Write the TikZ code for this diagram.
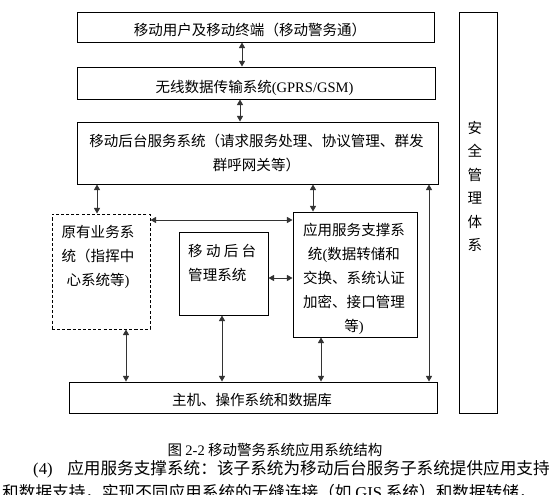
\documentclass[tikz,border=0pt]{standalone}
\usepackage{fontspec}
\setmainfont{Noto Sans CJK SC}
\newfontfamily\latin{Liberation Serif}
\usetikzlibrary{arrows.meta, positioning, fit}
\tikzset{
  box/.style={draw, line width=0.8pt, inner sep=0pt},
  dashbox/.style={box, dash pattern=on 2.6pt off 1.8pt},
  txt/.style={font=\fontsize{12.4}{20.5}\selectfont, align=center, inner sep=0pt},
  arr/.style={{Triangle[length=4.8pt,width=5.2pt]}-{Triangle[length=4.8pt,width=5.2pt]},
    line width=0.8pt, black!80},
}

\begin{document}
\begin{tikzpicture}[x=0.03cm, y=-0.03cm]
  \useasboundingbox (0,0) rectangle (550,494);
  \clip (0,0) rectangle (550,494);

  % Top layers
  \node[box, fit={(77,12) (434,42)}] (user) {};
  \node[txt] (usertxt) at (250,29.5) {移动用户及移动终端（移动警务通）};
  \node[box, fit={(77,67) (435,99)}] (wl) {};
  \node[txt] (wltxt) at (254.5,87.5) {无线数据传输系统{\latin (GPRS/GSM)}};
  \node[box, fit={(77,122) (438,184)}] (back) {};
  \node[txt] (backtxt) at (256.5,153) {移动后台服务系统（请求服务处理、协议管理、群发\\群呼网关等）};

  % Security column
  \node[box, fit={(459,12) (497,413)}] (safe) {};
  \node[txt, font=\fontsize{12.4}{20.1}\selectfont] (safetxt) at (475,186.5) {安\\全\\管\\理\\体\\系};

  % Middle layer
  \node[dashbox, fit={(52,214) (150,329)}] (orig) {};
  \node[txt] (origtxt) at (98,257) {原有业务系\\统（指挥中\\心系统等{\latin )}};
  \node[box, fit={(179,232) (268,315)}] (mgmt) {};
  \node[txt, align=left, anchor=west] (mgmttxt) at (188,262.5) {移 动 后 台\\管理系统};
  \node[box, fit={(293,212) (417,337)}] (app) {};
  \node[txt] (apptxt) at (354,279) {应用服务支撑系\\统{\latin (}数据转储和\\交换、系统认证\\加密、接口管理\\等{\latin )}};

  % Bottom layer
  \node[box, fit={(69,382) (437,413)}] (host) {};
  \node[txt] (hosttxt) at (252,399.5) {主机、操作系统和数据库};

  \draw[arr] (user.south -| 242,0) -- (wl.north -| 242,0);
  \draw[arr] (wl.south -| 240,0) -- (back.north -| 240,0);
  \draw[arr] (back.south -| 97,0) -- (orig.north -| 97,0);
  \draw[arr] (back.south -| 313,0) -- (app.north -| 313,0);
  \draw[arr] (back.south -| 429,0) -- (host.north -| 429,0);
  \draw[arr] (orig.east |- 0,220) -- (app.west |- 0,220);
  \draw[arr] (mgmt.east |- 0,278) -- (app.west |- 0,278);
  \draw[arr] (orig.south -| 126,0) -- (host.north -| 126,0);
  \draw[arr] (mgmt.south -| 222,0) -- (host.north -| 222,0);
  \draw[arr] (app.south -| 321,0) -- (host.north -| 321,0);

  % Caption and body text
  \node[font=\fontsize{12.4}{14}\selectfont, inner sep=0pt] (cap) at (275,450) {图 {\latin 2-2} 移动警务系统应用系统结构};
  \node[font=\fontsize{14.2}{18}\selectfont, inner sep=0pt, anchor=west] (para1) at (33,469)
    {{\latin (4)}\hspace{12.5pt}应用服务支撑系统：该子系统为移动后台服务子系统提供应用支持};
  \node[font=\fontsize{14.2}{18}\selectfont, inner sep=0pt, anchor=west] (para2) at (2,492)
    {和数据支持，实现不同应用系统的无缝连接（如 {\latin GIS} 系统）和数据转储，};
\end{tikzpicture}
\end{document}
